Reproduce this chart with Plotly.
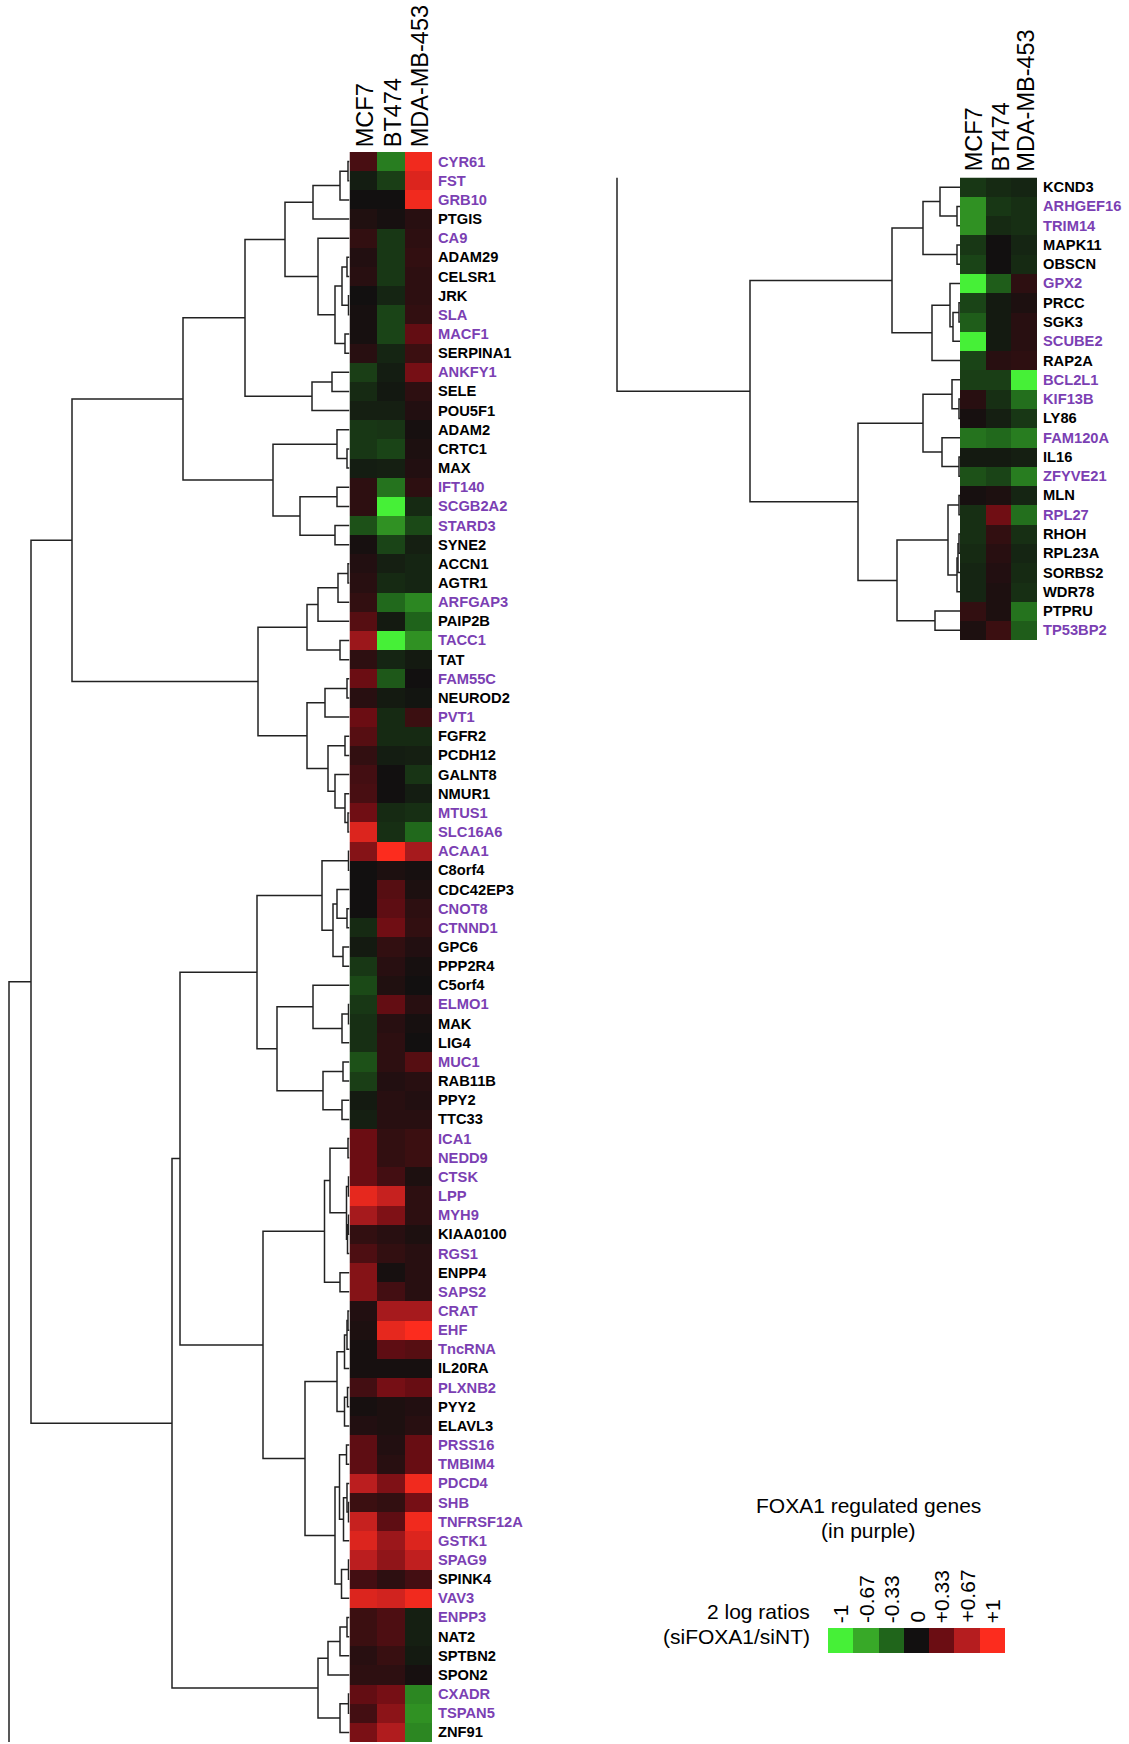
import plotly.graph_objects as go

# ---------------------------------------------------------------- data
CELL_LINES = ["MCF7", "BT474", "MDA-MB-453"]

LEFT_GENES = [
    "CYR61", "FST", "GRB10", "PTGIS", "CA9", "ADAM29", "CELSR1", "JRK", "SLA", "MACF1",
    "SERPINA1", "ANKFY1", "SELE", "POU5F1", "ADAM2", "CRTC1", "MAX", "IFT140", "SCGB2A2", "STARD3",
    "SYNE2", "ACCN1", "AGTR1", "ARFGAP3", "PAIP2B", "TACC1", "TAT", "FAM55C", "NEUROD2", "PVT1",
    "FGFR2", "PCDH12", "GALNT8", "NMUR1", "MTUS1", "SLC16A6", "ACAA1", "C8orf4", "CDC42EP3", "CNOT8",
    "CTNND1", "GPC6", "PPP2R4", "C5orf4", "ELMO1", "MAK", "LIG4", "MUC1", "RAB11B", "PPY2",
    "TTC33", "ICA1", "NEDD9", "CTSK", "LPP", "MYH9", "KIAA0100", "RGS1", "ENPP4", "SAPS2",
    "CRAT", "EHF", "TncRNA", "IL20RA", "PLXNB2", "PYY2", "ELAVL3", "PRSS16", "TMBIM4", "PDCD4",
    "SHB", "TNFRSF12A", "GSTK1", "SPAG9", "SPINK4", "VAV3", "ENPP3", "NAT2", "SPTBN2", "SPON2",
    "CXADR", "TSPAN5", "ZNF91",
]
LEFT_MCF7 = [
    0.20, -0.05, 0.00, 0.05, 0.12, 0.06, 0.08, 0.00, 0.02, 0.02,
    0.08, -0.18, -0.10, -0.06, -0.15, -0.15, -0.05, 0.10, 0.10, -0.25,
    0.02, 0.06, 0.08, 0.12, 0.25, 0.55, 0.10, 0.33, 0.08, 0.33,
    0.25, 0.12, 0.18, 0.20, 0.35, 0.85, 0.45, 0.00, 0.00, 0.00,
    -0.10, -0.04, -0.15, -0.22, -0.15, -0.12, -0.12, -0.25, -0.18, -0.04,
    -0.06, 0.33, 0.33, 0.33, 0.90, 0.60, 0.12, 0.22, 0.45, 0.45,
    0.06, 0.04, 0.02, 0.02, 0.18, 0.02, 0.06, 0.28, 0.28, 0.70,
    0.15, 0.75, 0.85, 0.70, 0.18, 0.85, 0.15, 0.15, 0.08, 0.10,
    0.30, 0.18, 0.40,
]
LEFT_BT474 = [
    -0.45, -0.18, 0.00, 0.02, -0.15, -0.15, -0.15, -0.08, -0.20, -0.20,
    -0.08, -0.05, -0.03, -0.06, -0.14, -0.20, -0.06, -0.40, -1.00, -0.55,
    -0.20, -0.06, -0.10, -0.35, -0.04, -1.00, -0.08, -0.28, -0.04, -0.10,
    -0.10, -0.05, 0.00, 0.00, -0.10, -0.12, 1.00, 0.04, 0.25, 0.28,
    0.35, 0.12, 0.08, 0.05, 0.30, 0.08, 0.10, 0.10, 0.06, 0.08,
    0.08, 0.12, 0.12, 0.18, 0.75, 0.42, 0.08, 0.12, 0.02, 0.18,
    0.60, 0.90, 0.28, 0.02, 0.38, 0.04, 0.04, 0.06, 0.08, 0.42,
    0.12, 0.28, 0.55, 0.50, 0.10, 0.80, 0.22, 0.22, 0.14, 0.10,
    0.38, 0.48, 0.65,
]
LEFT_MDA = [
    0.95, 0.85, 0.95, 0.08, 0.10, 0.12, 0.10, 0.10, 0.12, 0.30,
    0.15, 0.38, 0.10, 0.06, 0.02, 0.04, 0.06, 0.10, -0.10, -0.22,
    -0.06, -0.08, -0.08, -0.50, -0.32, -0.55, -0.04, 0.00, -0.02, 0.15,
    -0.10, -0.06, -0.14, -0.05, -0.12, -0.35, 0.60, 0.02, 0.04, 0.10,
    0.12, 0.06, 0.02, 0.00, 0.08, 0.02, 0.00, 0.25, 0.08, 0.06,
    0.08, 0.15, 0.15, 0.04, 0.10, 0.10, 0.04, 0.08, 0.08, 0.08,
    0.60, 1.00, 0.25, 0.02, 0.32, 0.06, 0.08, 0.32, 0.32, 0.95,
    0.38, 0.95, 0.85, 0.72, 0.18, 0.95, -0.06, -0.06, -0.04, 0.02,
    -0.50, -0.55, -0.50,
]

RIGHT_GENES = [
    "KCND3", "ARHGEF16", "TRIM14", "MAPK11", "OBSCN", "GPX2", "PRCC", "SGK3", "SCUBE2", "RAP2A",
    "BCL2L1", "KIF13B", "LY86", "FAM120A", "IL16", "ZFYVE21", "MLN", "RPL27", "RHOH", "RPL23A",
    "SORBS2", "WDR78", "PTPRU", "TP53BP2",
]
RIGHT_MCF7 = [
    -0.15, -0.55, -0.55, -0.15, -0.20, -1.00, -0.20, -0.30, -1.00, -0.20,
    -0.18, 0.08, 0.02, -0.40, -0.04, -0.25, 0.02, -0.12, -0.12, -0.10,
    -0.08, -0.08, 0.12, 0.04,
]
RIGHT_BT474 = [
    -0.10, -0.15, -0.10, 0.00, 0.00, -0.30, -0.04, -0.04, -0.04, 0.08,
    -0.18, -0.12, -0.06, -0.35, -0.04, -0.20, 0.04, 0.35, 0.12, 0.08,
    0.06, 0.04, 0.04, 0.15,
]
RIGHT_MDA = [
    -0.08, -0.12, -0.12, -0.08, -0.10, 0.10, 0.04, 0.08, 0.08, 0.10,
    -1.00, -0.38, -0.15, -0.45, -0.06, -0.45, -0.08, -0.38, -0.12, -0.08,
    -0.10, -0.12, -0.40, -0.30,
]

# genes regulated by FOXA1 (labelled in purple)
FOXA1_TARGETS = [
    "CYR61", "FST", "GRB10", "CA9", "SLA", "MACF1", "ANKFY1", "IFT140", "SCGB2A2", "STARD3",
    "ARFGAP3", "TACC1", "FAM55C", "PVT1", "MTUS1", "SLC16A6", "ACAA1", "CNOT8", "CTNND1", "ELMO1",
    "MUC1", "ICA1", "NEDD9", "CTSK", "LPP", "MYH9", "RGS1", "SAPS2", "CRAT", "EHF", "TncRNA",
    "PLXNB2", "PRSS16", "TMBIM4", "PDCD4", "SHB", "TNFRSF12A", "GSTK1", "SPAG9", "VAV3", "ENPP3",
    "CXADR", "TSPAN5",
    "ARHGEF16", "TRIM14", "GPX2", "SCUBE2", "BCL2L1", "KIF13B", "FAM120A", "ZFYVE21", "RPL27",
    "TP53BP2",
]

# hierarchical clustering trees: (merge height, left, right); leaves are row indices
LEFT_TREE = (318.5,
    (277.5,
        (166.5,
            (104.5,
                (64.5,
                    (36.5, (9.5, (1.5, 0, 1), 2), 3),
                    (31.5, 4, (14.5, (7.5, (2.5, 5, 6), (1.0, 7, 8)), (4.5, 9, 10)))),
                (37.5, (17.5, 11, 12), 13)),
            (76.5,
                (12.5, 14, (2.5, 15, 16)),
                (49.5, (12.5, 17, 18), (14.5, 19, 20)))),
        (91.5,
            (42.5,
                (31.5, (11.5, (1.5, 21, 22), 23), 24),
                (9.5, 25, 26)),
            (42.5,
                (24.5, (2.5, 27, 28), 29),
                (21.5, (4.5, 30, 31), (14.5, 32, (4.5, 33, (1.5, 34, 35))))))),
    (177.5,
        (169.5,
            (92.5,
                (27.5,
                    (1.0, 36, 37),
                    (16.5, (12.5, 38, (2.5, 39, 40)), (6.5, 41, 42))),
                (72.5,
                    (36.5, 43, (7.5, (1.0, 44, 45), 46)),
                    (26.5, (6.5, 47, 48), (7.5, 49, 50)))),
            (86.5,
                (25.0,
                    (19.5, (1.5, 51, 52), (3.0, (1.0, 53, 54), (2.0, (1.0, 55, 56), 57))),
                    (9.5, 58, 59)),
                (44.5,
                    (12.5,
                        (5.0, (2.5, (1.5, 60, 61), 62), 63),
                        (5.0, (2.0, 64, 65), 66)),
                    (14.5,
                        (10.0, (3.0, 67, 68), (6.0, (2.5, 69, (1.0, 70, 71)), 72)),
                        (8.0, (1.0, 73, 74), 75))))),
        (31.5,
            (21.5, (9.5, (2.5, 76, 77), 78), 79),
            (9.5, (1.0, 80, 81), 82))))
LEFT_OUTER_HEIGHT = 340.5     # link towards the rest of the full tree (runs downwards)

RIGHT_TREE = (210,
    (68,
        (37, (20, 0, (3, 1, 2)), (3, 3, 4)),
        (28, (10, 5, (7, (1, 6, 7), 8)), 9)),
    (102,
        (37, (8, 10, (1, 11, 12)), (18, 13, (1, 14, 15))),
        (63,
            (12, (1, 16, 17), (3, (2, (1, 18, 19), 20), 21)),
            (25, 22, 23))))
RIGHT_OUTER_HEIGHT = 343      # link towards the rest of the full tree (runs upwards)

LEGEND_LEVELS = [-1, -0.67, -0.33, 0, 0.33, 0.67, 1]
LEGEND_LABELS = ["-1", "-0.67", "-0.33", "0", "+0.33", "+0.67", "+1"]

# ---------------------------------------------------------------- style
W, H = 1129, 1744
FONT = "Liberation Sans, Arial, Helvetica, sans-serif"
PURPLE = "#7b3fb3"
LINE = "#222222"
COLORSCALE = [
    [0.0, "rgb(70,240,55)"],
    [1 / 6, "rgb(56,168,40)"],
    [2 / 6, "rgb(32,102,27)"],
    [0.5, "rgb(18,16,16)"],
    [4 / 6, "rgb(108,13,19)"],
    [5 / 6, "rgb(180,29,31)"],
    [1.0, "rgb(252,44,30)"],
]


def xdom(left, right):
    return [left / W, right / W]


def ydom(top, bottom):
    return [1 - bottom / H, 1 - top / H]


def dendro_paths(node, xs, ys):
    """Walk the tree, append elbow segments, return (row position, height)."""
    if isinstance(node, int):
        return float(node), 0.0
    h, a, b = node
    ya, ha = dendro_paths(a, xs, ys)
    yb, hb = dendro_paths(b, xs, ys)
    xs += [ha, h, h, hb, None]
    ys += [ya, ya, yb, yb, None]
    return (ya + yb) / 2, h


fig = go.Figure()

# panel geometry (pixels)
L_TOP, L_BOT = 152, 1742
R_TOP, R_BOT = 177.5, 640
L_HM = (349.5, 432)
R_HM = (960, 1037)
nL, nR = len(LEFT_GENES), len(RIGHT_GENES)

# ---- left dendrogram
xs, ys = [], []
mid, top_h = dendro_paths(LEFT_TREE, xs, ys)
xs += [top_h, LEFT_OUTER_HEIGHT, LEFT_OUTER_HEIGHT, None]
ys += [mid, mid, nL - 0.5, None]
fig.add_trace(go.Scatter(x=xs, y=ys, mode="lines", line=dict(color=LINE, width=1.5),
                         hoverinfo="skip", showlegend=False, xaxis="x", yaxis="y"))

# ---- left heatmap
zL = [list(v) for v in zip(LEFT_MCF7, LEFT_BT474, LEFT_MDA)]
fig.add_trace(go.Heatmap(z=zL, x=[0, 1, 2], y=list(range(nL)), colorscale=COLORSCALE,
                         zmin=-1, zmax=1, showscale=False, xaxis="x2", yaxis="y2",
                         customdata=[[g] * 3 for g in LEFT_GENES],
                         hovertemplate="%{customdata}: %{z}<extra></extra>"))

# ---- right dendrogram
xs, ys = [], []
mid, top_h = dendro_paths(RIGHT_TREE, xs, ys)
xs += [top_h, RIGHT_OUTER_HEIGHT, RIGHT_OUTER_HEIGHT, None]
ys += [mid, mid, -0.5, None]
fig.add_trace(go.Scatter(x=xs, y=ys, mode="lines", line=dict(color=LINE, width=1.5),
                         hoverinfo="skip", showlegend=False, xaxis="x3", yaxis="y3"))

# ---- right heatmap
zR = [list(v) for v in zip(RIGHT_MCF7, RIGHT_BT474, RIGHT_MDA)]
fig.add_trace(go.Heatmap(z=zR, x=[0, 1, 2], y=list(range(nR)), colorscale=COLORSCALE,
                         zmin=-1, zmax=1, showscale=False, xaxis="x4", yaxis="y4",
                         customdata=[[g] * 3 for g in RIGHT_GENES],
                         hovertemplate="%{customdata}: %{z}<extra></extra>"))

# ---- colour key
fig.add_trace(go.Heatmap(z=[LEGEND_LEVELS], x=list(range(len(LEGEND_LEVELS))), y=[0],
                         colorscale=COLORSCALE, zmin=-1, zmax=1, showscale=False,
                         xaxis="x5", yaxis="y5", hoverinfo="skip"))

hidden = dict(visible=False, showgrid=False, zeroline=False, fixedrange=True)
fig.update_layout(
    width=W, height=H, margin=dict(l=0, r=0, t=0, b=0),
    paper_bgcolor="white", plot_bgcolor="white",
    xaxis=dict(domain=xdom(0, L_HM[0]), range=[L_HM[0], 0], **hidden),
    yaxis=dict(domain=ydom(L_TOP, L_BOT), range=[nL - 0.5, -0.5], anchor="x", **hidden),
    xaxis2=dict(domain=xdom(*L_HM), range=[-0.5, 2.5], anchor="y2", **hidden),
    yaxis2=dict(domain=ydom(L_TOP, L_BOT), range=[nL - 0.5, -0.5], anchor="x2", **hidden),
    xaxis3=dict(domain=xdom(600, R_HM[0]), range=[R_HM[0] - 600, 0], anchor="y3", **hidden),
    yaxis3=dict(domain=ydom(R_TOP, R_BOT), range=[nR - 0.5, -0.5], anchor="x3", **hidden),
    xaxis4=dict(domain=xdom(*R_HM), range=[-0.5, 2.5], anchor="y4", **hidden),
    yaxis4=dict(domain=ydom(R_TOP, R_BOT), range=[nR - 0.5, -0.5], anchor="x4", **hidden),
    xaxis5=dict(domain=xdom(828, 1005), range=[-0.5, len(LEGEND_LEVELS) - 0.5], anchor="y5", **hidden),
    yaxis5=dict(domain=ydom(1628, 1653), range=[-0.5, 0.5], anchor="x5", **hidden),
)

ann = []


def gene_labels(genes, xref, yref):
    for i, g in enumerate(genes):
        ann.append(dict(x=2.5, y=i, xref=xref, yref=yref, text=f"<b>{g}</b>",
                        xanchor="left", yanchor="middle", xshift=4, showarrow=False,
                        font=dict(family=FONT, size=14.7,
                                  color=PURPLE if g in FOXA1_TARGETS else "black")))


def column_headers(xref, yref, shift):
    for j, name in enumerate(CELL_LINES):
        ann.append(dict(x=j, y=-0.5, xref=xref, yref=yref, text=name, textangle=-90,
                        xanchor="center", yanchor="bottom", xshift=2, yshift=shift,
                        showarrow=False, font=dict(family=FONT, size=23.5, color="black")))


gene_labels(LEFT_GENES, "x2", "y2")
gene_labels(RIGHT_GENES, "x4", "y4")
column_headers("x2", "y2", 3)
column_headers("x4", "y4", 4)

for j, lab in enumerate(LEGEND_LABELS):
    ann.append(dict(x=j, y=0.5, xref="x5", yref="y5", text=lab, textangle=-90,
                    xanchor="center", yanchor="bottom", yshift=3, showarrow=False,
                    font=dict(family=FONT, size=21, color="black")))

for text, cx, cy, anchor in [
    ("FOXA1 regulated genes", 868, 1505, "center"),
    ("(in purple)", 868, 1530, "center"),
    ("2 log ratios", 812, 1611, "right"),
    ("(siFOXA1/siNT)", 812, 1636, "right"),
]:
    ann.append(dict(x=cx / W, y=1 - cy / H, xref="paper", yref="paper", text=text,
                    xanchor=anchor, yanchor="middle", showarrow=False,
                    font=dict(family=FONT, size=21, color="black")))

fig.update_layout(annotations=ann)
fig.write_html("out.html")
